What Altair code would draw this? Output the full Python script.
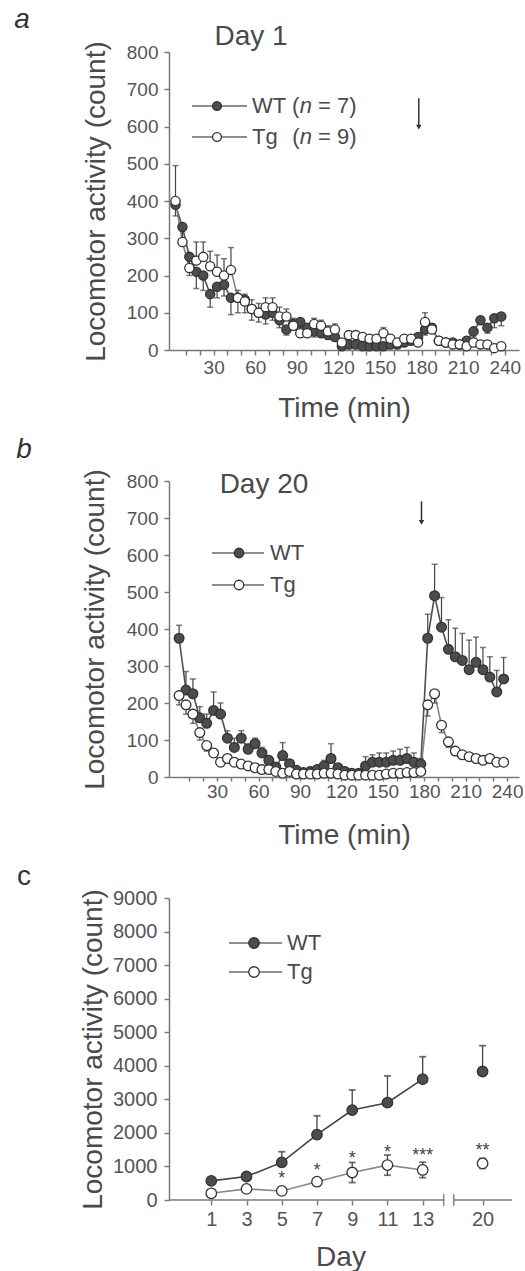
import altair as alt
import pandas as pd

FONT = "Liberation Sans"
TXT = "#4a4a4a"
LBL = "#555555"
AX = "#7a7a7a"

# ---------------- data ----------------
time_min = [2.5, 7.5, 12.5, 17.5, 22.5, 27.5, 32.5, 37.5, 42.5, 47.5, 52.5, 57.5,
            62.5, 67.5, 72.5, 77.5, 82.5, 87.5, 92.5, 97.5, 102.5, 107.5, 112.5, 117.5,
            122.5, 127.5, 132.5, 137.5, 142.5, 147.5, 152.5, 157.5, 162.5, 167.5, 172.5, 177.5,
            182.5, 187.5, 192.5, 197.5, 202.5, 207.5, 212.5, 217.5, 222.5, 227.5, 232.5, 237.5]
time_ticks = [10, 20, 30, 40, 50, 60, 70, 80, 90, 100, 110, 120, 130, 140, 150, 160,
              170, 180, 190, 200, 210, 220, 230, 240]
y_ticks_time = [0, 100, 200, 300, 400, 500, 600, 700, 800]

# Day 1
wt_day1 = [390, 330, 250, 210, 200, 150, 170, 175, 140, 140, 135, 110, 100, 95, 100, 80,
           55, 70, 75, 60, 50, 45, 40, 35, 10, 15, 15, 10, 10, 10, 10, 15, 15, 20, 25, 35,
           55, 60, 25, 20, 20, 15, 25, 50, 80, 60, 85, 90]
wt_day1_err = [30, 40, 50, 45, 40, 35, 30, 30, 45, 40, 35, 30, 25, 25, 20, 20, 15, 15, 15, 15,
               15, 10, 10, 10, 10, 10, 10, 10, 10, 10, 10, 10, 10, 10, 10, 10, 15, 15, 10, 10,
               10, 10, 10, 15, 10, 15, 25, 25]
tg_day1 = [400, 290, 220, 240, 250, 225, 210, 200, 215, 140, 130, 110, 100, 115, 115, 90,
           90, 65, 45, 45, 70, 65, 50, 55, 20, 40, 40, 35, 30, 30, 45, 30, 20, 30, 30, 20,
           75, 55, 25, 20, 15, 15, 10, 20, 15, 15, 5, 10]
tg_day1_err = [95, 40, 40, 50, 40, 40, 45, 45, 60, 20, 20, 25, 25, 25, 25, 25, 20, 20, 15, 15,
               15, 15, 15, 15, 10, 10, 10, 10, 10, 10, 15, 10, 10, 10, 10, 10, 25, 15, 10, 10,
               10, 10, 10, 10, 10, 10, 10, 10]

# Day 20
wt_day20 = [375, 235, 225, 160, 145, 180, 170, 105, 80, 105, 75, 90, 65, 45, 27, 58,
            36, 18, 12, 15, 20, 30, 50, 25, 15, 10, 10, 30, 40, 40, 40, 45, 45, 50, 40, 35,
            375, 490, 405, 345, 325, 315, 290, 310, 290, 270, 230, 265]
wt_day20_err = [35, 50, 40, 30, 25, 50, 30, 20, 25, 20, 15, 15, 15, 10, 10, 35, 10, 10, 10, 10,
                10, 15, 40, 10, 10, 10, 10, 25, 20, 25, 25, 25, 30, 30, 25, 15, 65, 85, 80, 80,
                77, 73, 80, 68, 60, 55, 58, 58]
tg_day20 = [220, 195, 170, 120, 85, 65, 40, 50, 40, 35, 30, 25, 20, 20, 15, 10,
            15, 8, 8, 8, 8, 10, 10, 8, 5, 5, 5, 5, 5, 5, 8, 10, 10, 12, 12, 15,
            195, 225, 140, 95, 70, 60, 55, 50, 45, 50, 40, 40]
tg_day20_err = [25, 25, 25, 20, 15, 10, 10, 10, 10, 8, 8, 8, 5, 5, 5, 5, 5, 5, 5, 5,
                5, 5, 5, 5, 5, 5, 5, 5, 5, 5, 5, 5, 5, 5, 5, 5, 30, 25, 20, 15,
                10, 10, 10, 8, 8, 8, 8, 8]

# arrows (time, top value, tip value)
arrow_day1 = [178, 676, 598]
arrow_day20 = [178, 745, 688]

# Panel c (total activity per day)
days = [1, 3, 5, 7, 9, 11, 13, 20]
day_pos = [1, 3, 5, 7, 9, 11, 13, 16.4]
wt_total = [570, 700, 1120, 1950, 2680, 2900, 3600, 3830]
wt_total_err = [100, 60, 320, 560, 600, 800, 670, 770]
tg_total = [200, 330, 270, 545, 820, 1040, 895, 1090]
tg_total_err = [80, 60, 60, 100, 300, 300, 230, 150]
stars = ["", "", "*", "*", "*", "*", "***", "**"]
star_y = [0, 0, 620, 870, 1210, 1410, 1310, 1460]
y_ticks_total = [0, 1000, 2000, 3000, 4000, 5000, 6000, 7000, 8000, 9000]
axis_segments = [[-1.4, 14.19], [14.76, 18.07]]


def dummy():
    return alt.Chart(pd.DataFrame({"k": [0]}))


def text_at(x, y, s, size, style="normal", align="left", color=TXT):
    return dummy().mark_text(align=align, baseline="middle", font=FONT, fontSize=size,
                             fontStyle=style, color=color).encode(
        x=alt.value(x), y=alt.value(y), text=alt.value(s))


def legend_row(x0, x1, xp, y, filled, size):
    line = dummy().mark_rule(color="#6a6a6a", strokeWidth=1.5).encode(
        x=alt.value(x0), x2=alt.value(x1), y=alt.value(y))
    pt = dummy().mark_point(shape="circle", filled=True, size=size, opacity=1,
                            fill="#4d4d4d" if filled else "white",
                            stroke="#333333", strokeWidth=1.3).encode(
        x=alt.value(xp), y=alt.value(y))
    return [line, pt]


def time_panel(wt, wt_err, wt_sign, tg, tg_err, tg_sign, xdom, width, height,
               x_title_pad, x_tick, x_label_pad, y_title_pad, arrow, extras, pt_size):
    n = len(time_min)
    df = pd.DataFrame({
        "t": time_min + time_min,
        "val": wt + tg,
        "err": wt_err + tg_err,
        "sign": [wt_sign] * n + [tg_sign] * n,
        "series": ["WT"] * n + ["Tg"] * n,
    })
    df["end"] = df["val"] + df["sign"] * df["err"]

    xaxis = alt.Axis(values=time_ticks, title="Time (min)",
                     labelExpr="datum.value % 30 === 0 ? format(datum.value, 'd') : ''",
                     titlePadding=x_title_pad, tickSize=x_tick, labelPadding=x_label_pad,
                     labelOverlap=False, labelFlush=False)
    yaxis = alt.Axis(values=y_ticks_time, title="Locomotor activity (count)",
                     titlePadding=y_title_pad, tickSize=5, labelPadding=6)
    X = alt.X("t:Q", scale=alt.Scale(domain=xdom, nice=False, zero=False), axis=xaxis)
    Y = alt.Y("val:Q", scale=alt.Scale(domain=[0, 800], nice=False, zero=False), axis=yaxis)
    Ye = alt.Y("end:Q", scale=alt.Scale(domain=[0, 800], nice=False, zero=False), axis=yaxis)

    base = alt.Chart(df)
    layers = []
    for s, lc in (("WT", "#4f4f4f"), ("Tg", "#858585")):
        layers.append(base.transform_filter(alt.datum.series == s)
                      .mark_line(color=lc, strokeWidth=1.6).encode(x=X, y=Y))
    for s in ("WT", "Tg"):
        b = base.transform_filter(alt.datum.series == s)
        layers.append(b.mark_rule(color="#444444", strokeWidth=1.2).encode(
            x=X, y=Y, y2=alt.Y2("end:Q")))
        layers.append(b.mark_tick(orient="horizontal", size=6, thickness=1.5,
                                  color="#444444").encode(x=X, y=Ye))
    for s, fill in (("WT", "#4d4d4d"), ("Tg", "white")):
        layers.append(base.transform_filter(alt.datum.series == s)
                      .mark_point(shape="circle", filled=True, size=pt_size, opacity=1,
                                  fill=fill, stroke="#333333", strokeWidth=1.3)
                      .encode(x=X, y=Y))
    adf = pd.DataFrame({"t": [arrow[0]], "val": [arrow[1]], "end": [arrow[2]]})
    achart = alt.Chart(adf)
    layers.append(achart.mark_rule(color="#333333", strokeWidth=1.5).encode(
        x=X, y=Y, y2=alt.Y2("end:Q")))
    layers.append(achart.mark_point(shape="triangle-down", filled=True, size=30,
                                    color="#333333", opacity=1).encode(x=X, y=Ye))
    layers += extras
    return alt.layer(*layers).properties(width=width, height=height)


# ---------------- panel a ----------------
extras_a = [
    text_at(-147, -32, "a", 28, style="italic", align="center", color="#333333"),
    text_at(82, -15, "Day 1", 28, align="center"),
]
extras_a += legend_row(23, 78, 48, 54, True, 80)
extras_a += legend_row(23, 78, 48, 85, False, 80)
extras_a += [
    text_at(83, 54, "WT (", 22), text_at(130.7, 54, "n", 22, style="italic"),
    text_at(149, 54, "= 7)", 22),
    text_at(83, 85, "Tg", 22), text_at(123.3, 85, "(", 22),
    text_at(130.7, 85, "n", 22, style="italic"), text_at(149, 85, "= 9)", 22),
]
panel_a = time_panel(wt_day1, wt_day1_err, -1, tg_day1, tg_day1_err, 1,
                     [-2.2, 250.3], 350, 298, 17, 5, 3, 16, arrow_day1, extras_a, 85)

# ---------------- panel b ----------------
extras_b = [
    text_at(-145, -31, "b", 28, style="italic", align="center", color="#333333"),
    text_at(95, 4, "Day 20", 28, align="center"),
]
extras_b += legend_row(43, 95, 70, 72, True, 90)
extras_b += legend_row(43, 95, 70, 104, False, 90)
extras_b += [text_at(101, 72, "WT", 22), text_at(101, 104, "Tg", 22)]
panel_b = time_panel(wt_day20, wt_day20_err, 1, tg_day20, tg_day20_err, -1,
                     [-4.8, 248.6], 350, 296, 20, 4, 1, 17, arrow_day20, extras_b, 95)

# ---------------- panel c ----------------
n = len(days)
dfc = pd.DataFrame({
    "day": days + days,
    "pos": day_pos + day_pos,
    "val": wt_total + tg_total,
    "err": wt_total_err + tg_total_err,
    "series": ["WT"] * n + ["Tg"] * n,
})
dfc["hi"] = dfc["val"] + dfc["err"]
dfc["lo"] = dfc["val"] - dfc["err"]
dfc.loc[dfc["series"] == "WT", "lo"] = dfc.loc[dfc["series"] == "WT", "val"]

label_expr = "datum.value === 16.4 ? '20' : format(datum.value, 'd')"
xaxis_c = alt.Axis(values=day_pos, labelExpr=label_expr, title="Day", domain=False,
                   tickSize=5, labelPadding=4, titlePadding=14, labelFontSize=20,
                   labelOverlap=False, labelFlush=False)
yaxis_c = alt.Axis(values=y_ticks_total, format="d", title="Locomotor activity (count)",
                   tickSize=5, labelPadding=7, titlePadding=5, labelFontSize=20)
xdom_c = [-1.4, 18.07]
Xc = alt.X("pos:Q", scale=alt.Scale(domain=xdom_c, nice=False, zero=False), axis=xaxis_c)
Yc = alt.Y("val:Q", scale=alt.Scale(domain=[0, 9000], nice=False, zero=False), axis=yaxis_c)
Yc_hi = alt.Y("hi:Q", scale=alt.Scale(domain=[0, 9000], nice=False, zero=False), axis=yaxis_c)
Yc_lo = alt.Y("lo:Q", scale=alt.Scale(domain=[0, 9000], nice=False, zero=False), axis=yaxis_c)

basec = alt.Chart(dfc)
layers_c = []
seg_df = pd.DataFrame({"pos": [s[0] for s in axis_segments],
                       "pos2": [s[1] for s in axis_segments],
                       "val": [0, 0]})
layers_c.append(alt.Chart(seg_df).mark_rule(color=AX, strokeWidth=1.5).encode(
    x=Xc, x2=alt.X2("pos2:Q"), y=Yc))
brk_df = pd.DataFrame({"pos": [axis_segments[0][1], axis_segments[1][0]], "val": [0, 0]})
layers_c.append(alt.Chart(brk_df).mark_tick(orient="vertical", size=12, thickness=1.5,
                                            color="#555555").encode(x=Xc, y=Yc))
for s, lc in (("WT", "#444444"), ("Tg", "#888888")):
    layers_c.append(basec.transform_filter(alt.datum.series == s)
                    .transform_filter(alt.datum.day <= 13)
                    .mark_line(color=lc, strokeWidth=1.6).encode(x=Xc, y=Yc))
for s in ("WT", "Tg"):
    b = basec.transform_filter(alt.datum.series == s)
    layers_c.append(b.mark_rule(color="#444444", strokeWidth=1.3).encode(
        x=Xc, y=Yc_lo, y2=alt.Y2("hi:Q")))
    layers_c.append(b.mark_tick(orient="horizontal", size=7, thickness=1.8,
                                color="#333333").encode(x=Xc, y=Yc_hi))
    if s == "Tg":
        layers_c.append(b.mark_tick(orient="horizontal", size=7, thickness=1.8,
                                    color="#333333").encode(x=Xc, y=Yc_lo))
for s, fill in (("WT", "#4d4d4d"), ("Tg", "white")):
    layers_c.append(basec.transform_filter(alt.datum.series == s)
                    .mark_point(shape="circle", filled=True, size=110, opacity=1,
                                fill=fill, stroke="#333333", strokeWidth=1.3)
                    .encode(x=Xc, y=Yc))
star_df = pd.DataFrame({"pos": day_pos, "val": star_y, "txt": stars})
layers_c.append(alt.Chart(star_df).mark_text(font=FONT, fontSize=18, color="#444444",
                                             baseline="middle").encode(
    x=Xc, y=Yc, text="txt:N"))
layers_c.append(text_at(-145, -21, "c", 28, align="center", color="#333333"))
layers_c += legend_row(60, 113, 85, 45, True, 110)
layers_c += legend_row(60, 113, 85, 74, False, 110)
layers_c += [text_at(118, 45, "WT", 22), text_at(118, 74, "Tg", 22)]
panel_c = alt.layer(*layers_c).properties(width=343, height=302)

chart = alt.vconcat(panel_a, panel_b, panel_c, spacing=14).properties(
    padding={"left": 14, "top": 6, "right": 0, "bottom": 0}
).configure_view(stroke=None).configure_axis(
    labelFont=FONT, titleFont=FONT, labelFontSize=19, titleFontSize=28,
    titleFontWeight="normal", labelColor=LBL, titleColor=TXT,
    domainColor=AX, tickColor=AX, domainWidth=1.5, tickWidth=1.5, grid=False
)

chart.save("out.html", embed_options={"renderer": "svg", "actions": False})
